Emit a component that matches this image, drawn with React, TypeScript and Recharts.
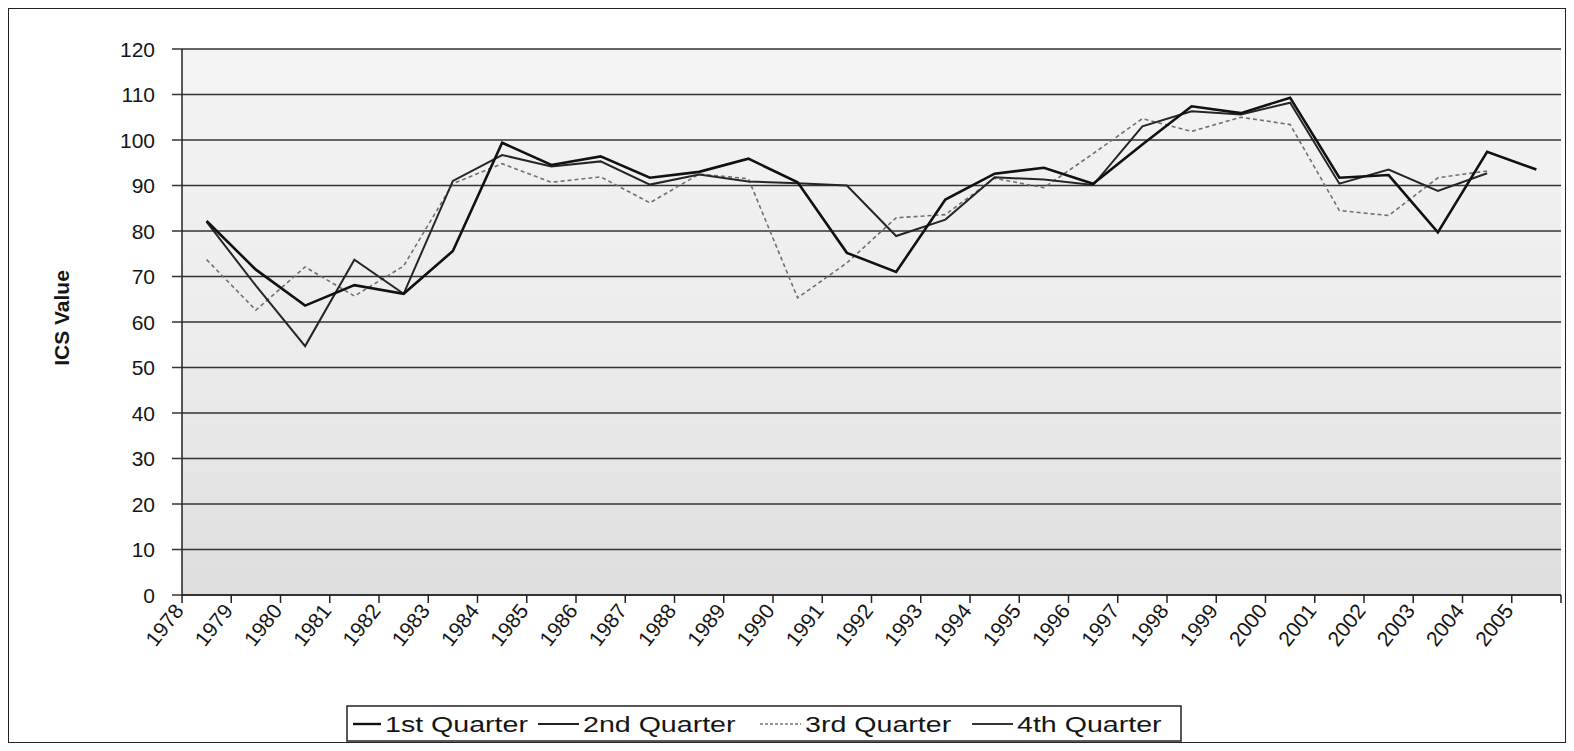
import React from 'react';
import { ComposedChart, Line, XAxis, YAxis, CartesianGrid, Legend, Label } from 'recharts';

// ---------- data ----------
const years = ['1978','1979','1980','1981','1982','1983','1984','1985','1986','1987','1988','1989','1990','1991','1992','1993','1994','1995','1996','1997','1998','1999','2000','2001','2002','2003','2004','2005'];
const q1Values = [82.2, 71.5, 63.6, 68.1, 66.2, 75.6, 99.4, 94.5, 96.4, 91.7, 93.0, 95.9, 90.7, 75.2, 71.0, 86.9, 92.6, 93.9, 90.4, 99.0, 107.4, 105.9, 109.3, 91.7, 92.3, 79.7, 97.4, 93.5];
const q2Values = [82.0, 68.0, 54.7, 73.7, 66.2, 91.0, 96.7, 94.2, 95.3, 90.2, 92.4, 90.9, 90.5, 90.0, 78.9, 82.5, 91.8, 91.3, 90.1, 103.0, 106.3, 105.6, 108.2, 90.4, 93.5, 88.8, 92.7, null];
const q3Values = [73.7, 62.6, 72.1, 65.7, 72.3, 90.4, 94.8, 90.7, 91.9, 86.2, 92.5, 91.5, 65.3, 73.0, 82.9, 83.6, 91.6, 89.5, 97.0, 104.7, 101.9, 105.0, 103.4, 84.5, 83.4, 91.7, 93.2, null];
const yTicks = [0, 10, 20, 30, 40, 50, 60, 70, 80, 90, 100, 110, 120];
const legendNames = ['1st Quarter', '2nd Quarter', '3rd Quarter', '4th Quarter'];
const yTitle = 'ICS Value';

const data = years.map((year, i) => ({ year, q1: q1Values[i], q2: q2Values[i], q3: q3Values[i] }));

// ---------- layout / style ----------
const W = 1556;
const H = 733;
const M = { top: 40, right: 4, bottom: 0, left: 93 };
const Y_W = 80;
const X_H = 105;
const LEG_H = 42;
const plotW = W - M.left - Y_W - M.right;
const band = plotW / years.length;
const FONT = '"Liberation Sans", Arial, Helvetica, sans-serif';
const INK = '#151515';

const legendStyles = [
  { stroke: '#111', width: 2.4, dash: undefined as string | undefined },
  { stroke: '#222', width: 2.0, dash: undefined as string | undefined },
  { stroke: '#777', width: 1.6, dash: '3 2' },
  { stroke: '#333', width: 1.8, dash: undefined as string | undefined },
];
const legendSampleX = [6, 191, 413, 625];
const legendSampleEnd = [34, 232, 454, 666];
const legendTextX = [38, 236, 458, 670];

function XTick(props: any) {
  const { x, y, payload } = props;
  const idx = props.index ?? payload.index;
  const left = x - band / 2;
  const right = x + band / 2;
  return (
    <g>
      <line x1={left} y1={y} x2={left} y2={y + 8} stroke="#222" strokeWidth={1.5} />
      {idx === years.length - 1 && (
        <line x1={right} y1={y} x2={right} y2={y + 8} stroke="#222" strokeWidth={1.5} />
      )}
      <text
        transform={`translate(${x - 22},${y + 16}) rotate(-52)`}
        textAnchor="end"
        fontSize={21}
        fontFamily={FONT}
        fill={INK}
      >
        {payload.value}
      </text>
    </g>
  );
}

function YTick(props: any) {
  const { x, y, payload } = props;
  return (
    <text
      transform={`translate(${x},${y + 7.5})`}
      textAnchor="end"
      fontSize={21}
      fontFamily={FONT}
      fill={INK}
    >
      {payload.value}
    </text>
  );
}

function YTitle(props: any) {
  const vb = props.viewBox || { x: M.left, y: M.top, width: Y_W, height: 546 };
  const cx = vb.x - 33;
  const cy = vb.y + vb.height / 2 - 4;
  return (
    <text
      transform={`translate(${cx},${cy}) rotate(-90)`}
      textAnchor="middle"
      fontSize={21}
      fontWeight="bold"
      fontFamily={FONT}
      fill={INK}
    >
      {yTitle}
    </text>
  );
}

function LegendBox() {
  return (
    <svg width={W} height={LEG_H} style={{ display: 'block' }}>
      <g transform="translate(338,6)">
        <rect x={0} y={0} width={834} height={35} fill="#fff" stroke="#222" strokeWidth={1.5} />
        {legendNames.map((name, i) => (
          <g key={name}>
            <line
              x1={legendSampleX[i]}
              x2={legendSampleEnd[i]}
              y1={18}
              y2={18}
              stroke={legendStyles[i].stroke}
              strokeWidth={legendStyles[i].width}
              strokeDasharray={legendStyles[i].dash}
            />
            <text
              transform={`translate(${legendTextX[i]},26) scale(1.3,1)`}
              fontSize={22}
              fontFamily={FONT}
              fill={INK}
            >
              {name}
            </text>
          </g>
        ))}
      </g>
    </svg>
  );
}

export default function App() {
  return (
    <div>
      <svg width={0} height={0} style={{ position: 'absolute' }}>
        <defs>
          <linearGradient id="plotBg" x1="0" y1="0" x2="0" y2="1">
            <stop offset="0%" stopColor="#f4f4f4" />
            <stop offset="55%" stopColor="#ececec" />
            <stop offset="100%" stopColor="#dedede" />
          </linearGradient>
        </defs>
      </svg>
      <div
        style={{
          width: W + 2,
          height: H + 2,
          border: '1px solid #222',
          boxSizing: 'border-box',
          background: '#fff',
          fontFamily: FONT,
        }}
      >
        <ComposedChart width={W} height={H} data={data} margin={M}>
          <CartesianGrid vertical={false} stroke="#333" strokeWidth={1.5} fill="url(#plotBg)" fillOpacity={1} />
          <XAxis
            dataKey="year"
            interval={0}
            height={X_H}
            padding={{ left: band / 2, right: band / 2 }}
            tickLine={false}
            tickSize={0}
            tickMargin={0}
            axisLine={{ stroke: '#222', strokeWidth: 1.5 }}
            tick={<XTick />}
          />
          <YAxis
            domain={[0, 120]}
            ticks={yTicks}
            width={Y_W}
            tickSize={10}
            tickMargin={17}
            tickLine={{ stroke: '#333', strokeWidth: 1.5 }}
            axisLine={{ stroke: '#222', strokeWidth: 1.5 }}
            tick={<YTick />}
            interval={0}
          >
            <Label content={<YTitle />} />
          </YAxis>
          <YAxis
            yAxisId="frame"
            orientation="right"
            domain={[0, 120]}
            width={0}
            tick={false}
            tickLine={false}
            axisLine={{ stroke: '#222', strokeWidth: 1.5 }}
          />
          <Legend verticalAlign="bottom" height={LEG_H} wrapperStyle={{ left: 0, width: W }} content={<LegendBox />} />
          <Line dataKey="q3" name="3rd Quarter" stroke="#707070" strokeWidth={1.6} strokeDasharray="4 3" dot={false} isAnimationActive={false} />
          <Line dataKey="q2" name="2nd Quarter" stroke="#262626" strokeWidth={2} dot={false} isAnimationActive={false} />
          <Line dataKey="q1" name="1st Quarter" stroke="#111" strokeWidth={2.6} dot={false} isAnimationActive={false} />
        </ComposedChart>
      </div>
    </div>
  );
}
